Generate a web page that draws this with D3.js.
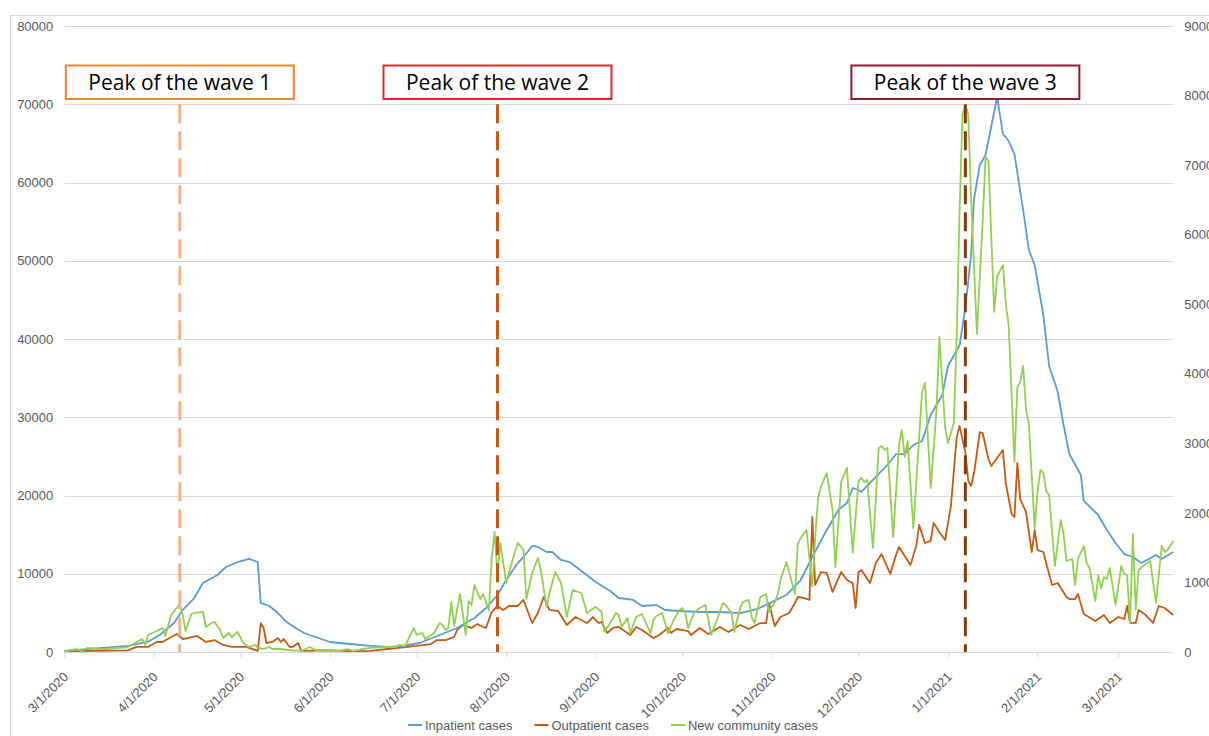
<!DOCTYPE html>
<html><head><meta charset="utf-8">
<script src="https://cdn.jsdelivr.net/npm/d3@7"></script>
<style>body{margin:0;background:#fff} svg{display:block}</style>
</head><body>
<svg id="c" width="1209" height="736"></svg>
<script>
// ---------------- DATA ----------------
const xTickDates = ["2020-03-01","2020-04-01","2020-05-01","2020-06-01","2020-07-01","2020-08-01","2020-09-01","2020-10-01","2020-11-01","2020-12-01","2021-01-01","2021-02-01","2021-03-01"];
const leftTicks = [0,10000,20000,30000,40000,50000,60000,70000,80000];
const rightTicks = [0,1000,2000,3000,4000,5000,6000,7000,8000,9000];
const seriesNames = ["Inpatient cases","Outpatient cases","New community cases"];
const waveDates = ["2020-04-10","2020-07-29","2021-01-07"];
const waveLabels = ["Peak of the wave 1","Peak of the wave 2","Peak of the wave 3"];
const waveTop = 70000;

const inpatient = [["2020-03-01",150],["2020-03-23",770],["2020-03-30",1320],["2020-04-03",2170],["2020-04-08",3710],["2020-04-11",5370],["2020-04-15",6900],["2020-04-18",8820],["2020-04-23",9840],["2020-04-26",10860],["2020-04-30",11500],["2020-05-04",11890],["2020-05-07",11500],["2020-05-08",6260],["2020-05-11",5880],["2020-05-14",4980],["2020-05-17",3830],["2020-05-19",3320],["2020-05-23",2430],["2020-05-28",1790],["2020-06-01",1280],["2020-06-08",1020],["2020-06-15",770],["2020-06-21",640],["2020-06-26",770],["2020-07-02",1150],["2020-07-09",2170],["2020-07-15",3070],["2020-07-21",4350],["2020-07-25",5620],["2020-07-29",7280],["2020-08-01",9200],["2020-08-05",11370],["2020-08-07",12140],["2020-08-10",13550],["2020-08-12",13420],["2020-08-15",12780],["2020-08-17",12780],["2020-08-20",11760],["2020-08-23",11500],["2020-08-28",10100],["2020-09-01",8950],["2020-09-06",7800],["2020-09-09",6900],["2020-09-14",6650],["2020-09-17",5880],["2020-09-22",6000],["2020-09-25",5370],["2020-09-30",5240],["2020-10-07",5110],["2020-10-14",5110],["2020-10-21",4980],["2020-10-27",5500],["2020-11-01",6390],["2020-11-06",7280],["2020-11-11",9200],["2020-11-15",12140],["2020-11-20",15590],["2020-11-24",18150],["2020-11-27",19040],["2020-11-29",20960],["2020-12-01",20700],["2020-12-02",20450],["2020-12-07",22370],["2020-12-11",23900],["2020-12-14",25300],["2020-12-17",25300],["2020-12-20",26450],["2020-12-23",26970],["2020-12-26",30290],["2020-12-30",32850],["2021-01-01",36550],["2021-01-05",39230],["2021-01-07",43960],["2021-01-09",50860],["2021-01-10",57890],["2021-01-12",62240],["2021-01-14",63520],["2021-01-18",70930],["2021-01-20",66200],["2021-01-22",65300],["2021-01-24",63640],["2021-01-27",56490],["2021-01-29",51380],["2021-01-31",49460],["2021-02-03",43070],["2021-02-05",36550],["2021-02-08",33230],["2021-02-10",29010],["2021-02-12",25300],["2021-02-16",22620],["2021-02-17",19300],["2021-02-22",17510],["2021-02-25",15590],["2021-02-28",13930],["2021-03-03",12520],["2021-03-06",12140],["2021-03-09",11370],["2021-03-14",12400],["2021-03-16",11890],["2021-03-20",12780]];

const outpatient = [["2020-03-01",100],["2020-03-11",150],["2020-03-23",200],["2020-03-26",650],["2020-03-30",650],["2020-04-02",1280],["2020-04-04",1280],["2020-04-07",1920],["2020-04-09",2300],["2020-04-11",1660],["2020-04-13",1790],["2020-04-16",2050],["2020-04-19",1280],["2020-04-22",1530],["2020-04-25",900],["2020-04-28",650],["2020-05-03",650],["2020-05-07",150],["2020-05-08",3700],["2020-05-09",3070],["2020-05-10",1150],["2020-05-12",1280],["2020-05-14",1790],["2020-05-15",1280],["2020-05-16",1660],["2020-05-18",650],["2020-05-19",650],["2020-05-21",1150],["2020-05-22",150],["2020-06-01",200],["2020-06-08",100],["2020-06-15",150],["2020-06-24",510],["2020-07-01",770],["2020-07-06",1020],["2020-07-08",1530],["2020-07-11",1530],["2020-07-14",1920],["2020-07-15",2810],["2020-07-17",3450],["2020-07-18",3320],["2020-07-20",3070],["2020-07-22",3580],["2020-07-24",3200],["2020-07-25",3070],["2020-07-27",5110],["2020-07-29",5880],["2020-07-31",5370],["2020-08-02",5880],["2020-08-05",5880],["2020-08-07",6650],["2020-08-10",3700],["2020-08-12",4980],["2020-08-14",7030],["2020-08-16",5370],["2020-08-19",5240],["2020-08-22",3450],["2020-08-25",4470],["2020-08-29",3700],["2020-08-31",4470],["2020-09-02",3710],["2020-09-03",3830],["2020-09-05",2430],["2020-09-07",3070],["2020-09-09",3200],["2020-09-13",2170],["2020-09-15",3200],["2020-09-17",2810],["2020-09-21",1790],["2020-09-23",2170],["2020-09-26",3070],["2020-09-27",2430],["2020-09-29",2940],["2020-10-03",2680],["2020-10-04",2170],["2020-10-07",3070],["2020-10-10",2300],["2020-10-14",3200],["2020-10-17",2560],["2020-10-21",3450],["2020-10-24",2940],["2020-10-28",3700],["2020-10-30",3700],["2020-10-31",6260],["2020-11-02",3320],["2020-11-04",4470],["2020-11-07",4980],["2020-11-09",6260],["2020-11-10",7030],["2020-11-12",6900],["2020-11-14",6650],["2020-11-15",17250],["2020-11-16",8570],["2020-11-18",10220],["2020-11-20",10100],["2020-11-22",7670],["2020-11-25",10220],["2020-11-27",9200],["2020-11-29",8800],["2020-11-30",5620],["2020-12-01",10220],["2020-12-02",10480],["2020-12-05",8820],["2020-12-07",11370],["2020-12-09",12520],["2020-12-12",9970],["2020-12-14",12400],["2020-12-15",13420],["2020-12-19",11120],["2020-12-21",13550],["2020-12-22",16230],["2020-12-24",13930],["2020-12-26",14190],["2020-12-27",16490],["2020-12-29",15330],["2020-12-31",14310],["2021-01-02",18660],["2021-01-04",27470],["2021-01-05",28880],["2021-01-07",25560],["2021-01-08",21850],["2021-01-09",21210],["2021-01-10",22870],["2021-01-12",28110],["2021-01-13",27980],["2021-01-15",24660],["2021-01-16",23770],["2021-01-19",25300],["2021-01-20",25820],["2021-01-21",21590],["2021-01-23",17640],["2021-01-24",17250],["2021-01-25",24150],["2021-01-26",19550],["2021-01-28",17890],["2021-01-30",12780],["2021-01-31",15590],["2021-02-01",13030],["2021-02-03",12780],["2021-02-06",8560],["2021-02-08",8820],["2021-02-11",7030],["2021-02-12",6770],["2021-02-14",6770],["2021-02-15",7410],["2021-02-17",4860],["2021-02-21",3960],["2021-02-24",4730],["2021-02-26",3710],["2021-03-01",4470],["2021-03-03",4220],["2021-03-04",5880],["2021-03-05",3710],["2021-03-07",3710],["2021-03-08",5370],["2021-03-10",4860],["2021-03-13",3710],["2021-03-15",5880],["2021-03-17",5620],["2021-03-20",4730]];

const community = [["2020-03-01",10],["2020-03-05",43],["2020-03-07",15],["2020-03-09",58],["2020-03-13",43],["2020-03-16",43],["2020-03-20",58],["2020-03-23",72],["2020-03-26",144],["2020-03-28",187],["2020-03-29",101],["2020-03-30",245],["2020-04-02",302],["2020-04-04",345],["2020-04-05",230],["2020-04-07",532],["2020-04-10",690],["2020-04-11",532],["2020-04-12",302],["2020-04-14",546],["2020-04-15",561],["2020-04-18",575],["2020-04-19",360],["2020-04-21",417],["2020-04-22",431],["2020-04-24",316],["2020-04-25",201],["2020-04-27",273],["2020-04-28",216],["2020-04-30",288],["2020-05-02",130],["2020-05-04",72],["2020-05-06",101],["2020-05-07",58],["2020-05-09",43],["2020-05-11",72],["2020-05-12",43],["2020-05-15",43],["2020-05-17",29],["2020-05-22",15],["2020-05-25",72],["2020-05-27",29],["2020-05-31",29],["2020-06-04",15],["2020-06-07",43],["2020-06-09",15],["2020-06-12",43],["2020-06-15",58],["2020-06-20",72],["2020-06-24",72],["2020-06-25",101],["2020-06-27",86],["2020-06-30",345],["2020-07-01",245],["2020-07-03",273],["2020-07-04",187],["2020-07-07",273],["2020-07-09",417],["2020-07-10",388],["2020-07-11",316],["2020-07-12",345],["2020-07-13",719],["2020-07-14",374],["2020-07-16",834],["2020-07-18",245],["2020-07-19",733],["2020-07-20",676],["2020-07-21",963],["2020-07-23",762],["2020-07-24",834],["2020-07-26",604],["2020-07-27",1352],["2020-07-28",1726],["2020-07-29",1107],["2020-07-30",1568],["2020-08-01",992],["2020-08-03",1294],["2020-08-05",1568],["2020-08-07",1467],["2020-08-08",762],["2020-08-10",1136],["2020-08-12",1352],["2020-08-13",1179],["2020-08-15",647],["2020-08-16",848],["2020-08-18",1150],["2020-08-20",992],["2020-08-22",503],["2020-08-24",892],["2020-08-27",848],["2020-08-29",561],["2020-09-01",650],["2020-09-03",575],["2020-09-04",288],["2020-09-06",417],["2020-09-08",561],["2020-09-09",532],["2020-09-10",360],["2020-09-12",489],["2020-09-13",273],["2020-09-15",503],["2020-09-17",546],["2020-09-20",273],["2020-09-21",460],["2020-09-22",518],["2020-09-24",561],["2020-09-26",273],["2020-09-28",460],["2020-09-30",604],["2020-10-01",633],["2020-10-02",561],["2020-10-03",345],["2020-10-05",561],["2020-10-07",633],["2020-10-09",676],["2020-10-11",245],["2020-10-13",460],["2020-10-15",704],["2020-10-16",676],["2020-10-18",561],["2020-10-19",288],["2020-10-21",633],["2020-10-22",719],["2020-10-24",748],["2020-10-25",503],["2020-10-26",417],["2020-10-28",791],["2020-10-30",834],["2020-10-31",575],["2020-11-02",719],["2020-11-03",820],["2020-11-04",1035],["2020-11-06",1294],["2020-11-07",1150],["2020-11-09",834],["2020-11-10",1552],["2020-11-11",1639],["2020-11-13",1754],["2020-11-15",940],["2020-11-16",1639],["2020-11-17",2215],["2020-11-18",2373],["2020-11-20",2574],["2020-11-22",2042],["2020-11-23",1222],["2020-11-25",2445],["2020-11-27",2646],["2020-11-29",1430],["2020-12-01",2460],["2020-12-02",2503],["2020-12-03",2445],["2020-12-04",2474],["2020-12-06",1496],["2020-12-08",2933],["2020-12-09",2962],["2020-12-10",2905],["2020-12-11",2933],["2020-12-13",1654],["2020-12-15",2976],["2020-12-16",3192],["2020-12-17",2804],["2020-12-18",3034],["2020-12-20",1782],["2020-12-23",3739],["2020-12-24",3868],["2020-12-26",2358],["2020-12-28",3480],["2020-12-29",4530],["2020-12-31",3221],["2021-01-01",3005],["2021-01-03",3293],["2021-01-04",4530],["2021-01-05",6356],["2021-01-06",7722],["2021-01-07",7851],["2021-01-08",7736],["2021-01-09",6514],["2021-01-11",4573],["2021-01-13",6198],["2021-01-14",7118],["2021-01-15",7060],["2021-01-16",5939],["2021-01-17",4889],["2021-01-18",5400],["2021-01-20",5565],["2021-01-21",5004],["2021-01-22",4688],["2021-01-24",2732],["2021-01-25",3796],["2021-01-26",3883],["2021-01-27",4113],["2021-01-28",3494],["2021-01-29",3279],["2021-01-31",1783],["2021-02-01",2315],["2021-02-02",2617],["2021-02-03",2574],["2021-02-04",2315],["2021-02-05",2258],["2021-02-07",1237],["2021-02-09",1898],["2021-02-10",1697],["2021-02-11",1309],["2021-02-13",1337],["2021-02-14",963],["2021-02-15",1337],["2021-02-17",1524],["2021-02-18",1280],["2021-02-19",1208],["2021-02-21",733],["2021-02-22",1107],["2021-02-23",920],["2021-02-24",1078],["2021-02-25",1050],["2021-02-26",1208],["2021-02-28",676],["2021-03-02",1237],["2021-03-03",1122],["2021-03-04",1107],["2021-03-05",417],["2021-03-06",1697],["2021-03-07",604],["2021-03-08",1179],["2021-03-10",1251],["2021-03-11",1280],["2021-03-12",1309],["2021-03-14",704],["2021-03-16",1524],["2021-03-17",1438],["2021-03-18",1467],["2021-03-20",1596]];

// ---------------- CHART ----------------
const parse = d3.utcParse("%Y-%m-%d");
const fmt = d3.utcFormat("%-m/%-d/%Y");
const plot = {left:64.3, right:1173.3, top:26, bottom:652};
const x = d3.scaleUtc().domain([parse("2020-03-01"), parse("2021-03-20")]).range([plot.left, plot.right]);
const yL = d3.scaleLinear().domain([0,80000]).range([plot.bottom, plot.top]);
const yR = d3.scaleLinear().domain([0,9000]).range([plot.bottom, plot.top]);

const svg = d3.select("#c");
const textCol = "#595959", gridCol = "#D9D9D9";
const tickFont = "'Liberation Sans', Arial, sans-serif";

svg.append("rect").attr("width",1209).attr("height",736).attr("fill","#fff");
svg.append("rect").attr("x",10.5).attr("y",15.5).attr("width",1260).attr("height",760)
  .attr("fill","none").attr("stroke",gridCol);

// gridlines
svg.append("g").selectAll("line").data(leftTicks.filter(v=>v>0)).join("line")
  .attr("x1",plot.left).attr("x2",plot.right)
  .attr("y1",d=>Math.round(yL(d))+0.5).attr("y2",d=>Math.round(yL(d))+0.5)
  .attr("stroke",gridCol).attr("stroke-width",1);

// bottom axis
const xAxis = d3.axisBottom(x).tickValues(xTickDates.map(parse)).tickSize(5).tickFormat(fmt);
const gx = svg.append("g").attr("transform",`translate(0,${plot.bottom+0.5})`).call(xAxis);
gx.select(".domain").attr("stroke",gridCol).attr("d",`M${plot.left},0H${plot.right}`);
gx.selectAll(".tick line").attr("stroke",gridCol);
gx.selectAll(".tick text")
  .attr("fill",textCol).attr("font-family",tickFont).attr("font-size",13)
  .attr("text-anchor","end").attr("dy","0.35em").attr("y",0)
  .attr("transform","translate(1,22) rotate(-45)");

// left axis labels
const gyl = svg.append("g").attr("transform",`translate(${plot.left},0)`)
  .call(d3.axisLeft(yL).tickValues(leftTicks).tickSize(0).tickPadding(11).tickFormat(d3.format("d")));
gyl.select(".domain").remove();
gyl.selectAll("text").attr("fill",textCol).attr("font-family",tickFont).attr("font-size",13);

// right axis labels (cropped by the picture edge, as in the original)
const gyr = svg.append("g").attr("transform",`translate(${plot.right},0)`)
  .call(d3.axisRight(yR).tickValues(rightTicks).tickSize(0).tickPadding(11).tickFormat(d3.format("d")));
gyr.select(".domain").remove();
gyr.selectAll("text").attr("fill",textCol).attr("font-family",tickFont).attr("font-size",13);

// series
const lineL = d3.line().x(d=>x(parse(d[0]))).y(d=>yL(d[1]));
const lineR = d3.line().x(d=>x(parse(d[0]))).y(d=>yR(d[1]));
const colors = ["#5B9BD5","#C55A11","#92D050"];
svg.append("path").datum(outpatient).attr("d",lineL).attr("fill","none").attr("stroke",colors[1]).attr("stroke-width",1.8).attr("stroke-linejoin","round");
svg.append("path").datum(inpatient).attr("d",lineL).attr("fill","none").attr("stroke",colors[0]).attr("stroke-width",1.8).attr("stroke-linejoin","round");
svg.append("path").datum(community).attr("d",lineR).attr("fill","none").attr("stroke",colors[2]).attr("stroke-width",1.8).attr("stroke-linejoin","round");

// wave markers
const waveLineCols = ["#F4B183","#C55A11","#843C0C"];
const waveBoxCols = ["#F4812F","#E8222C","#8E1B2D"];
const boxW = 228, boxH = 33.5, boxTop = 65.5;
waveDates.forEach((d,i)=>{
  const xx = x(parse(d));
  svg.append("line").attr("x1",xx).attr("x2",xx).attr("y1",yL(waveTop)).attr("y2",yL(0))
    .attr("stroke",waveLineCols[i]).attr("stroke-width",3).attr("stroke-dasharray","19,8");
  svg.append("rect").attr("x",xx-boxW/2).attr("y",boxTop).attr("width",boxW).attr("height",boxH)
    .attr("fill","#fff").attr("stroke",waveBoxCols[i]).attr("stroke-width",2);
  svg.append("text").attr("x",xx).attr("y",boxTop+24.5).attr("text-anchor","middle")
    .attr("font-family","'Open Sans', 'Noto Sans', sans-serif").attr("font-size",21).attr("fill","#000")
    .text(waveLabels[i]);
});

// legend
const lg = svg.append("g");
let lx = 0;
seriesNames.forEach((n,i)=>{
  const g = lg.append("g").attr("transform",`translate(${lx},0)`);
  g.append("line").attr("x1",0).attr("x2",14).attr("y1",0).attr("y2",0).attr("stroke",colors[i]).attr("stroke-width",2);
  const t = g.append("text").attr("x",17).attr("dy","0.35em").attr("font-family",tickFont).attr("font-size",13).attr("fill",textCol).text(n);
  lx += 17 + t.node().getComputedTextLength() + 22;
});
const totalW = lx - 22;
lg.attr("transform",`translate(${613 - totalW/2},725)`);
</script>
</body></html>
